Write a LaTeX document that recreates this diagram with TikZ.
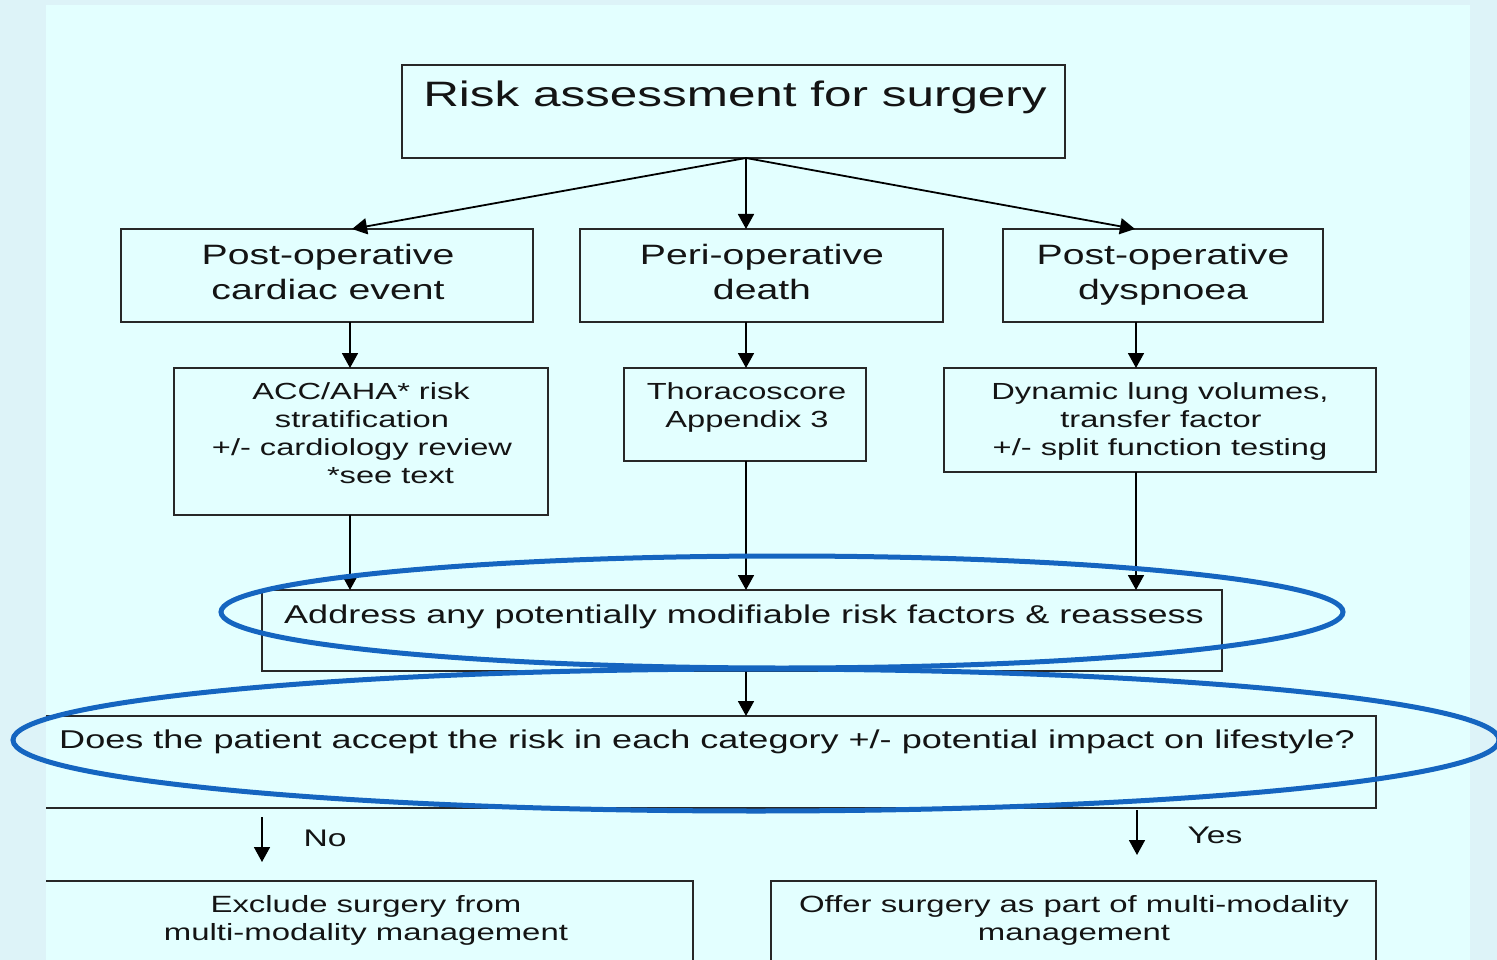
\documentclass[tikz,border=0pt]{standalone}
\usepackage{fontspec}
\setmainfont{Liberation Sans}[FakeStretch=1.40]
\usetikzlibrary{arrows.meta}
\definecolor{outerbg}{RGB}{221,243,248}
\definecolor{panelbg}{RGB}{227,255,255}
\definecolor{ellblue}{RGB}{21,101,192}
\definecolor{boxline}{RGB}{40,40,40}
\definecolor{txt}{RGB}{20,20,20}
\begin{document}
\begin{tikzpicture}[x=1pt,y=-1pt,
  box/.style={draw=boxline, line width=1.4pt, anchor=north west, inner sep=0pt, outer sep=0pt},
  tl/.style={anchor=base, inner sep=0pt, outer sep=0pt, text=txt},
  fA/.style={tl, font=\fontsize{35.3}{40}\selectfont},
  fB/.style={tl, font=\fontsize{28}{34}\selectfont},
  fC/.style={tl, font=\fontsize{23.3}{28}\selectfont},
  fG/.style={tl, font=\fontsize{25.75}{30}\selectfont},
  fI/.style={tl, font=\fontsize{23.5}{28}\selectfont},
  fN/.style={tl, font=\fontsize{24}{28}\selectfont},
  arr/.style={draw=black, line width=1.8pt, -{Triangle[length=15pt,width=16pt]}},
  ell/.style={draw=ellblue, line width=5pt}]
\useasboundingbox (0,0) rectangle (1497,960);
\fill[outerbg] (0,0) rectangle (1497,960);
\fill[panelbg] (46,5) rectangle (1470,960);

\coordinate (xl) at (350,0);
\coordinate (xm) at (746,0);
\coordinate (xr) at (1136,0);
\coordinate (xtl) at (352,0);
\coordinate (xtr) at (1135,0);

\begin{scope}
\clip (46,5) rectangle (1470,960);
% boxes
\node[box, minimum width=663pt, minimum height=93pt] (T) at (402,65) {};
\node[box, minimum width=412pt, minimum height=93pt] (A) at (121,229) {};
\node[box, minimum width=363pt, minimum height=93pt] (B) at (580,229) {};
\node[box, minimum width=320pt, minimum height=93pt] (C) at (1003,229) {};
\node[box, minimum width=374pt, minimum height=147pt] (D) at (174,368) {};
\node[box, minimum width=242pt, minimum height=93pt] (E) at (624,368) {};
\node[box, minimum width=432pt, minimum height=104pt] (F) at (944,368) {};
\node[box, minimum width=960pt, minimum height=81pt] (G) at (262,590) {};
\node[box, minimum width=1356pt, minimum height=92pt] (H) at (20,716) {};
\node[box, minimum width=673pt, minimum height=130pt] (I) at (20,881) {};
\node[box, minimum width=605pt, minimum height=130pt] (J) at (771,881) {};

% texts
\node[fA] (tT) at (735,107) {Risk assessment for surgery};
\node[fB] (tA1) at (328,265) {Post-operative};
\node[fB] (tA2) at (328,299) {cardiac event};
\node[fB] (tB1) at (762,265) {Peri-operative};
\node[fB] (tB2) at (762,299) {death};
\node[fB] (tC1) at (1163,265) {Post-operative};
\node[fB] (tC2) at (1163,299) {dyspnoea};
\node[fC] (tD1) at (361,399) {ACC/AHA* risk};
\node[fC] (tD2) at (362,427) {stratification};
\node[fC] (tD3) at (362,455) {+/- cardiology review};
\node[fC] (tD4) at (390.5,483) {*see text};
\node[fC] (tE1) at (746.5,399) {Thoracoscore};
\node[fC] (tE2) at (747,427) {Appendix 3};
\node[fC] (tF1) at (1160,399) {Dynamic lung volumes,};
\node[fC] (tF2) at (1161,427) {transfer factor};
\node[fC] (tF3) at (1160,455) {+/- split function testing};
\node[fG] (tG) at (744,623) {Address any potentially modifiable risk factors \& reassess};
\node[fG] (tH) at (707,748) {Does the patient accept the risk in each category +/- potential impact on lifestyle?};
\node[fN] (tNo) at (325,846) {No};
\node[fN] (tYes) at (1215,843) {Yes};
\node[fI] (tI1) at (366,912) {Exclude surgery from};
\node[fI] (tI2) at (366,940) {multi-modality management};
\node[fI] (tJ1) at (1074,912) {Offer surgery as part of multi-modality};
\node[fI] (tJ2) at (1074,940) {management};
\end{scope}

% connectors
\draw[arr] (T.south -| xm) -- (A.north -| xtl);
\draw[arr] (T.south -| xm) -- (B.north -| xm);
\draw[arr] (T.south -| xm) -- (C.north -| xtr);
\draw[arr] (A.south -| xl) -- (D.north -| xl);
\draw[arr] (B.south -| xm) -- (E.north -| xm);
\draw[arr] (C.south -| xr) -- (F.north -| xr);
\draw[arr] (D.south -| xl) -- (G.north -| xl);
\draw[arr] (E.south -| xm) -- (G.north -| xm);
\draw[arr] (F.south -| xr) -- (G.north -| xr);
\draw[arr] (G.south -| xm) -- (H.north -| xm);
\coordinate (noS) at (262,817);
\coordinate (noE) at (262,862);
\coordinate (yesS) at (1137,810);
\coordinate (yesE) at (1137,855);
\draw[arr] (noS) -- (noE);
\draw[arr] (yesS) -- (yesE);

% highlight ellipses
\draw[ell] (782,612) ellipse [x radius=561, y radius=56];
\draw[ell] (756,740) ellipse [x radius=743, y radius=71];
\end{tikzpicture}
\end{document}
